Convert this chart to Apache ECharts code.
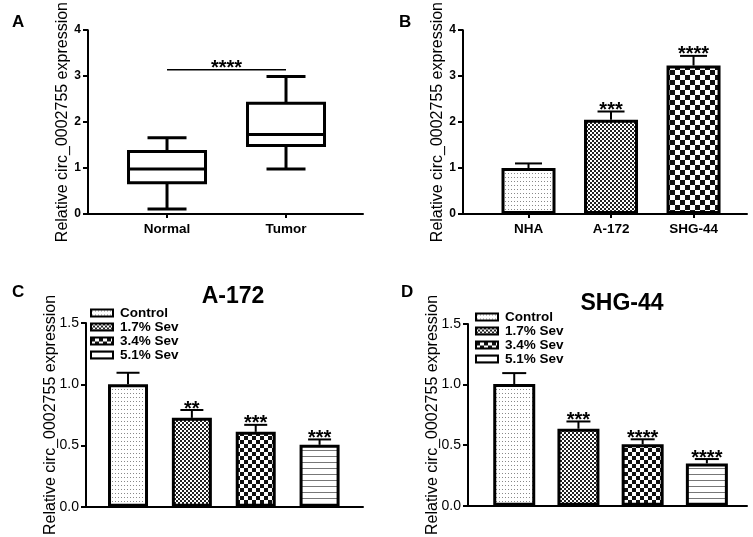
<!DOCTYPE html>
<html>
<head>
<meta charset="utf-8">
<script src="https://cdn.jsdelivr.net/npm/echarts@6/dist/echarts.min.js"></script>
<style>
  html, body { margin: 0; padding: 0; background: #fff; }
  #chart { width: 753px; height: 537px; }
</style>
</head>
<body>
<div id="chart"></div>
<script>
// ---- data ----
// A: box plots (min, Q1, median, Q3, max)
const boxCategories = ['Normal', 'Tumor'];
const boxStats = [
  [0.11, 0.68, 0.98, 1.36, 1.66],
  [0.98, 1.49, 1.73, 2.41, 2.99]
];
const boxSigLevel = 3.14;
const boxSigStars = '****';

// B: cell lines
const cellCategories = ['NHA', 'A-172', 'SHG-44'];
const cellMeans = [1.0, 2.05, 3.23];
const cellSem = [0.10, 0.18, 0.21];
const cellStars = ['', '***', '****'];

// C / D: sevoflurane groups
const sevGroups = ['Control', '1.7% Sev', '3.4% Sev', '5.1% Sev'];
const a172Means = [1.0, 0.726, 0.612, 0.506];
const a172Sem = [0.094, 0.064, 0.057, 0.044];
const a172Stars = ['', '**', '***', '***'];
const shgMeans = [1.005, 0.636, 0.508, 0.35];
const shgSem = [0.09, 0.06, 0.041, 0.036];
const shgStars = ['', '***', '****', '****'];

// tick labels
const topTicks = [0, 1, 2, 3, 4];
const bottomTicks = [0, 0.5, 1.0, 1.5];

const FONT = '"Liberation Sans", Arial, sans-serif';
const yTitle = 'Relative circ_0002755 expression';

// ---- fill patterns ----
function makePattern(w, h, draw) {
  const c = document.createElement('canvas');
  c.width = w; c.height = h;
  const ctx = c.getContext('2d');
  ctx.fillStyle = '#fff';
  ctx.fillRect(0, 0, w, h);
  draw(ctx);
  return { image: c, repeat: 'repeat' };
}
const dotted = makePattern(3, 4, ctx => { ctx.fillStyle = '#888'; ctx.fillRect(1, 1, 1, 1); });
const fineChecker = makePattern(4, 4, ctx => {
  ctx.fillStyle = '#222'; ctx.fillRect(0, 0, 2, 2); ctx.fillRect(2, 2, 2, 2);
});
const bigChecker = size => makePattern(size * 2, size * 2, ctx => {
  ctx.fillStyle = '#111'; ctx.fillRect(0, 0, size, size); ctx.fillRect(size, size, size, size);
});
const hLines = makePattern(1, 6, ctx => { ctx.fillStyle = '#777'; ctx.fillRect(0, 0, 1, 1); });

const cellPatterns = [dotted, fineChecker, bigChecker(5)];
const sevPatterns = [dotted, fineChecker, bigChecker(4), hLines];

// ---- helpers ----
const blackLine = { color: '#000', width: 2 };

function yAxisCfg(grid, ticks, bold, labelSize, nameGap, decimals, moveName) {
  return {
    gridIndex: grid, type: 'value',
    min: ticks[0], max: ticks[ticks.length - 1], interval: ticks[1] - ticks[0],
    axisLine: { show: true, onZero: false, lineStyle: blackLine },
    axisTick: { show: true, length: 5, lineStyle: blackLine },
    splitLine: { show: false },
    axisLabel: {
      color: '#000', fontFamily: FONT, fontSize: labelSize, margin: 7,
      fontWeight: bold ? 'bold' : 'normal',
      formatter: v => decimals ? v.toFixed(decimals) : String(v)
    },
    name: yTitle, nameLocation: 'middle', nameGap: nameGap, nameMoveOverlap: moveName,
    nameTextStyle: { color: '#000', fontFamily: FONT, fontSize: 16 }
  };
}

function xAxisCfg(grid, min, max, cats, showTicks) {
  const vals = cats.map((c, i) => i + 1);
  return {
    gridIndex: grid, type: 'value', min: min, max: max,
    axisLine: { show: true, onZero: false, lineStyle: blackLine },
    axisTick: { show: showTicks, customValues: vals, length: 4, lineStyle: blackLine },
    splitLine: { show: false },
    axisLabel: {
      show: cats.length > 0 && showTicks, customValues: vals,
      formatter: v => cats[Math.round(v) - 1] || '',
      color: '#000', fontFamily: FONT, fontSize: 13.5, fontWeight: 'bold', margin: 8
    }
  };
}

function errorBars(idx, means, sems, stars, capW) {
  return {
    type: 'custom', xAxisIndex: idx, yAxisIndex: idx, z: 5, silent: true,
    data: means.map((m, i) => [i + 1, m, m + sems[i]]),
    renderItem: (params, api) => {
      const x = api.value(0);
      const base = api.coord([x, api.value(1)]);
      const top = api.coord([x, api.value(2)]);
      return {
        type: 'group',
        children: [
          { type: 'line', shape: { x1: base[0], y1: base[1], x2: top[0], y2: top[1] },
            style: { stroke: '#000', lineWidth: 2 } },
          { type: 'line', shape: { x1: top[0] - capW / 2, y1: top[1], x2: top[0] + capW / 2, y2: top[1] },
            style: { stroke: '#000', lineWidth: 2 } },
          { type: 'text', x: top[0], y: top[1] + 9,
            style: { text: stars[params.dataIndex], align: 'center', verticalAlign: 'bottom',
                     font: 'bold 20px ' + FONT, fill: '#000' } }
        ]
      };
    }
  };
}

function sevBars(idx, means, barW) {
  return sevGroups.map((g, i) => ({
    type: 'bar', name: g, xAxisIndex: idx, yAxisIndex: idx,
    barWidth: barW, barGap: '-100%',
    itemStyle: { color: sevPatterns[i], borderColor: '#000', borderWidth: 3 },
    data: [[i + 1, means[i]]]
  }));
}

// ---- chart ----
const chart = echarts.init(document.getElementById('chart'));

const titleStyle = size => ({ color: '#000', fontFamily: FONT, fontWeight: 'bold', fontSize: size });
const legendCfg = (left, top) => ({
  data: sevGroups, orient: 'vertical', left: left, top: top, padding: 0, itemGap: 0,
  itemWidth: 22, itemHeight: 7, icon: 'rect', selectedMode: false,
  itemStyle: { borderColor: '#000', borderWidth: 2 },
  textStyle: { color: '#000', fontFamily: FONT, fontWeight: 'bold', fontSize: 13.5, padding: [0, 0, 0, 2] }
});

const option = {
  animation: false,
  backgroundColor: '#fff',
  title: [
    { text: 'A', left: 12, top: 14, padding: 0, textStyle: titleStyle(17) },
    { text: 'B', left: 399, top: 14, padding: 0, textStyle: titleStyle(17) },
    { text: 'C', left: 12, top: 284, padding: 0, textStyle: titleStyle(17) },
    { text: 'D', left: 401, top: 284, padding: 0, textStyle: titleStyle(17) },
    { text: 'A-172', left: 233, top: 285, padding: 0, textAlign: 'center', textStyle: titleStyle(23) },
    { text: 'SHG-44', left: 622, top: 292, padding: 0, textAlign: 'center', textStyle: titleStyle(23) }
  ],
  legend: [legendCfg(90, 306), legendCfg(475, 310)],
  grid: [
    { left: 88, top: 29, width: 275, height: 185 },
    { left: 463, top: 29, width: 284, height: 185 },
    { left: 86, top: 323, width: 277, height: 185 },
    { left: 468, top: 324, width: 279, height: 184 }
  ],
  xAxis: [
    xAxisCfg(0, 0.336, 2.647, boxCategories, true),
    xAxisCfg(1, 0.206, 3.648, cellCategories, true),
    xAxisCfg(2, 0.342, 4.68, [], false),
    xAxisCfg(3, 0.28, 4.625, [], false)
  ],
  yAxis: [
    yAxisCfg(0, topTicks, true, 12, 17, 0, true),
    yAxisCfg(1, topTicks, true, 12, 17, 0, true),
    yAxisCfg(2, bottomTicks, false, 14, 27, 1, false),
    yAxisCfg(3, bottomTicks, false, 14, 27, 1, false)
  ],
  series: [
    // A: box plots
    {
      type: 'custom', xAxisIndex: 0, yAxisIndex: 0, silent: true,
      data: boxStats.map((s, i) => [i + 1].concat(s)),
      renderItem: (params, api) => {
        const x = api.value(0);
        const c = k => api.coord([x, api.value(k)]);
        const pMin = c(1), pQ1 = c(2), pMed = c(3), pQ3 = c(4), pMax = c(5);
        const cx = pMin[0];
        const halfBox = 38.5, halfCap = 19.5;
        const st = { stroke: '#000', lineWidth: 3, fill: null };
        return {
          type: 'group',
          children: [
            { type: 'rect', shape: { x: cx - halfBox, y: pQ3[1], width: halfBox * 2, height: pQ1[1] - pQ3[1] },
              style: { stroke: '#000', lineWidth: 3, fill: '#fff' } },
            { type: 'line', shape: { x1: cx - halfBox, y1: pMed[1], x2: cx + halfBox, y2: pMed[1] }, style: st },
            { type: 'line', shape: { x1: cx, y1: pQ3[1], x2: cx, y2: pMax[1] }, style: st },
            { type: 'line', shape: { x1: cx, y1: pQ1[1], x2: cx, y2: pMin[1] }, style: st },
            { type: 'line', shape: { x1: cx - halfCap, y1: pMax[1], x2: cx + halfCap, y2: pMax[1] }, style: st },
            { type: 'line', shape: { x1: cx - halfCap, y1: pMin[1], x2: cx + halfCap, y2: pMin[1] }, style: st }
          ]
        };
      }
    },
    // A: significance bracket
    {
      type: 'custom', xAxisIndex: 0, yAxisIndex: 0, silent: true,
      data: [[1, 2, boxSigLevel]],
      renderItem: (params, api) => {
        const p1 = api.coord([api.value(0), api.value(2)]);
        const p2 = api.coord([api.value(1), api.value(2)]);
        return {
          type: 'group',
          children: [
            { type: 'line', shape: { x1: p1[0], y1: p1[1], x2: p2[0], y2: p2[1] },
              style: { stroke: '#000', lineWidth: 1.5 } },
            { type: 'text', x: (p1[0] + p2[0]) / 2, y: p1[1] + 9,
              style: { text: boxSigStars, align: 'center', verticalAlign: 'bottom',
                       font: 'bold 20px ' + FONT, fill: '#000' } }
          ]
        };
      }
    },
    // B: bars
    {
      type: 'bar', xAxisIndex: 1, yAxisIndex: 1, barWidth: 54,
      itemStyle: { borderColor: '#000', borderWidth: 3 },
      data: cellMeans.map((v, i) => ({ value: [i + 1, v], itemStyle: { color: cellPatterns[i] } }))
    },
    errorBars(1, cellMeans, cellSem, cellStars, 27),
    // C
    ...sevBars(2, a172Means, 40),
    errorBars(2, a172Means, a172Sem, a172Stars, 23),
    // D
    ...sevBars(3, shgMeans, 42),
    errorBars(3, shgMeans, shgSem, shgStars, 24)
  ]
};

chart.setOption(option);
</script>
</body>
</html>
